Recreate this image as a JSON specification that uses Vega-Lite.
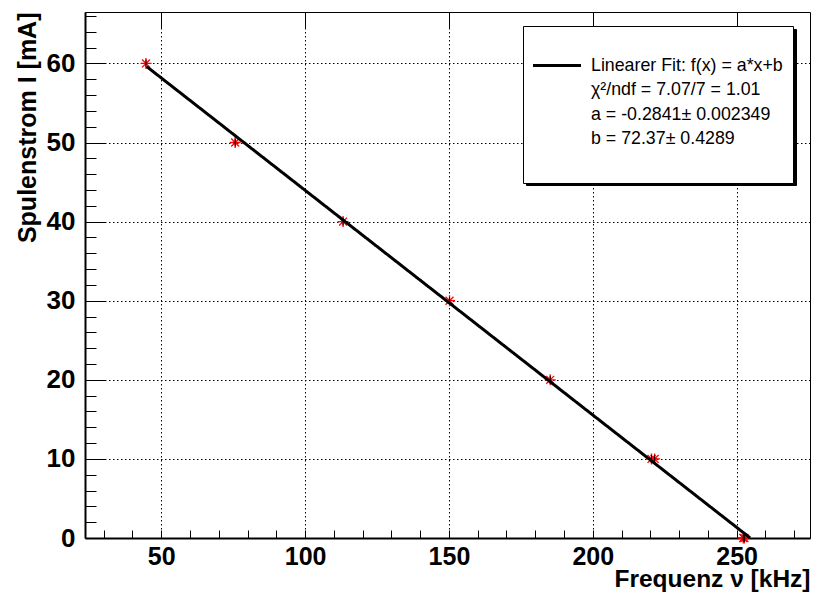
{
  "$schema": "https://vega.github.io/schema/vega-lite/v6.json",
  "width": 725,
  "height": 526,
  "autosize": {"type": "none"},
  "padding": {"left": 85, "top": 12, "right": 4, "bottom": 54},
  "background": "white",
  "config": {
    "font": "Liberation Sans",
    "view": {"stroke": "black", "strokeWidth": 1}
  },
  "datasets": {
    "messung": [
      {"f": 44.7, "I": 60, "dI": 0.5},
      {"f": 75.7, "I": 50, "dI": 0.5},
      {"f": 113.2, "I": 40, "dI": 0.5},
      {"f": 150.2, "I": 30, "dI": 0.5},
      {"f": 185.2, "I": 20, "dI": 0.5},
      {"f": 220.4, "I": 10, "dI": 0.5},
      {"f": 221.5, "I": 10, "dI": 0.5},
      {"f": 252.3, "I": 0, "dI": 0.5},
      {"f": 252.7, "I": 0, "dI": 0.5}
    ],
    "fit": [
      {"f": 45, "I": 59.5855, "label": "Linearer Fit: f(x) = a*x+b", "kurve": "Fit"},
      {"f": 254.7, "I": 0.0097, "label": "Linearer Fit: f(x) = a*x+b", "kurve": "Fit"}
    ]
  },
  "layer": [
    {
      "data": {"name": "messung"},
      "mark": {
        "type": "point",
        "shape": "M-1,0H1M0,-1V1M-0.72,-0.72L0.72,0.72M-0.72,0.72L0.72,-0.72",
        "filled": false,
        "stroke": "#ff0000",
        "strokeWidth": 1.3,
        "size": 121,
        "opacity": 1
      },
      "encoding": {
        "x": {
          "field": "f",
          "type": "quantitative",
          "title": "Frequenz ν [kHz]",
          "scale": {"domain": [23.5, 275.5], "nice": false, "zero": false},
          "axis": {
            "values": [30, 40, 50, 60, 70, 80, 90, 100, 110, 120, 130, 140, 150, 160, 170, 180, 190, 200, 210, 220, 230, 240, 250, 260, 270],
            "tickCount": 1000,
            "format": "d",
            "labelExpr": "datum.value % 50 === 0 ? datum.label : ''",
            "labelFont": "Liberation Sans",
            "labelFontSize": 25,
            "labelFontWeight": "bold",
            "labelColor": "black",
            "labelPadding": 14,
            "labelOverlap": false,
            "labelSeparation": -200,
            "labelFlush": false,
            "ticks": true,
            "tickColor": "black",
            "tickWidth": 1,
            "tickSize": -8,
            "grid": true,
            "gridColor": "black",
            "gridWidth": 1,
            "gridOpacity": {"condition": {"test": "datum.value % 50 === 0", "value": 1}, "value": 0},
            "gridDash": [17, 2.5, 1.5, 2.5, 1.5, 2.5, 1.5, 2.5, 1.5, 2.5, 1.5, 2.5, 1.5, 2.5, 1.5, 2.5, 1.5, 2.5, 1.5, 2.5, 1.5, 2.5, 1.5, 2.5, 1.5, 2.5, 1.5, 2.5, 1.5, 2.5, 1.5, 2.5, 1.5, 2.5, 1.5, 2.5, 1.5, 2.5, 1.5, 2.5, 1.5, 2.5, 1.5, 2.5, 1.5, 2.5, 1.5, 2.5, 1.5, 2.5, 1.5, 2.5, 1.5, 2.5, 1.5, 2.5, 1.5, 2.5, 1.5, 2.5, 1.5, 2.5, 1.5, 2.5, 1.5, 2.5, 1.5, 2.5, 1.5, 2.5, 1.5, 2.5, 1.5, 2.5, 1.5, 2.5, 1.5, 2.5, 1.5, 2.5, 1.5, 2.5, 1.5, 2.5, 1.5, 2.5, 1.5, 2.5, 1.5, 2.5, 1.5, 2.5, 1.5, 2.5, 1.5, 2.5, 1.5, 2.5, 1.5, 2.5, 1.5, 2.5, 1.5, 2.5, 1.5, 2.5, 1.5, 2.5, 1.5, 2.5, 1.5, 2.5, 1.5, 2.5, 1.5, 2.5, 1.5, 2.5, 1.5, 2.5, 1.5, 2.5, 1.5, 2.5, 1.5, 2.5, 1.5, 2.5, 1.5, 2.5, 1.5, 2.5, 1.5, 2.5, 1.5, 2.5, 1.5, 2.5, 1.5, 2.5, 1.5, 2.5, 1.5, 2.5, 1.5, 2.5, 1.5, 2.5, 1.5, 2.5, 1.5, 2.5, 1.5, 2.5, 1.5, 2.5, 1.5, 2.5, 1.5, 2.5, 1.5, 2.5, 1.5, 2.5, 1.5, 2.5, 1.5, 2.5, 1.5, 2.5, 1.5, 2.5, 1.5, 2.5, 1.5, 2.5, 1.5, 2.5, 1.5, 2.5, 1.5, 2.5, 1.5, 2.5, 1.5, 2.5, 1.5, 2.5, 1.5, 2.5, 1.5, 2.5, 1.5, 2.5, 1.5, 2.5, 1.5, 2.5, 1.5, 2.5, 1.5, 2.5, 1.5, 2.5, 1.5, 2.5, 1.5, 2.5, 1.5, 2.5, 1.5, 2.5, 1.5, 2.5, 1.5, 2.5, 1.5, 2.5, 1.5, 2.5, 1.5, 2.5, 1.5, 2.5, 1.5, 2.5, 1.5, 2.5, 1.5, 2.5, 1.5, 2.5, 1.5, 2.5, 1.5, 2.5, 1.5, 2.5, 1.5, 2.5, 1.5, 2.5, 1.5, 2.5, 1.5, 2.5, 1.5, 2.5, 1.5, 2.5, 1.5, 2.5, 1.5, 2.5, 1.5, 2.5, 1.5, 2.5, 1.5, 2.5, 1.5, 2.5, 1.5, 2.5],
            "domainColor": "black",
            "domainWidth": 2,
            "title": "Frequenz ν [kHz]",
            "titleFont": "Liberation Sans",
            "titleFontSize": 24.5,
            "titleFontWeight": "bold",
            "titleColor": "black",
            "titleAlign": "right",
            "titleBaseline": "alphabetic",
            "titleX": 725,
            "titleY": 48
          }
        },
        "y": {
          "field": "I",
          "type": "quantitative",
          "title": "Spulenstrom I [mA]",
          "scale": {"domain": [0, 66.5], "nice": false, "zero": false},
          "axis": {
            "values": [0, 2, 4, 6, 8, 10, 12, 14, 16, 18, 20, 22, 24, 26, 28, 30, 32, 34, 36, 38, 40, 42, 44, 46, 48, 50, 52, 54, 56, 58, 60, 62, 64, 66],
            "tickCount": 1000,
            "format": "d",
            "labelExpr": "datum.value % 10 === 0 ? datum.label : ''",
            "labelFont": "Liberation Sans",
            "labelFontSize": 26,
            "labelFontWeight": "bold",
            "labelColor": "black",
            "labelPadding": 21,
            "labelOverlap": false,
            "labelSeparation": -200,
            "labelFlush": false,
            "ticks": true,
            "tickColor": "black",
            "tickWidth": 1,
            "tickSize": -11,
            "grid": true,
            "gridColor": "black",
            "gridWidth": 1,
            "gridOpacity": {"condition": {"test": "datum.value % 10 === 0 && datum.value > 0", "value": 1}, "value": 0},
            "gridDash": [21, 2.5, 1.5, 2.5, 1.5, 2.5, 1.5, 2.5, 1.5, 2.5, 1.5, 2.5, 1.5, 2.5, 1.5, 2.5, 1.5, 2.5, 1.5, 2.5, 1.5, 2.5, 1.5, 2.5, 1.5, 2.5, 1.5, 2.5, 1.5, 2.5, 1.5, 2.5, 1.5, 2.5, 1.5, 2.5, 1.5, 2.5, 1.5, 2.5, 1.5, 2.5, 1.5, 2.5, 1.5, 2.5, 1.5, 2.5, 1.5, 2.5, 1.5, 2.5, 1.5, 2.5, 1.5, 2.5, 1.5, 2.5, 1.5, 2.5, 1.5, 2.5, 1.5, 2.5, 1.5, 2.5, 1.5, 2.5, 1.5, 2.5, 1.5, 2.5, 1.5, 2.5, 1.5, 2.5, 1.5, 2.5, 1.5, 2.5, 1.5, 2.5, 1.5, 2.5, 1.5, 2.5, 1.5, 2.5, 1.5, 2.5, 1.5, 2.5, 1.5, 2.5, 1.5, 2.5, 1.5, 2.5, 1.5, 2.5, 1.5, 2.5, 1.5, 2.5, 1.5, 2.5, 1.5, 2.5, 1.5, 2.5, 1.5, 2.5, 1.5, 2.5, 1.5, 2.5, 1.5, 2.5, 1.5, 2.5, 1.5, 2.5, 1.5, 2.5, 1.5, 2.5, 1.5, 2.5, 1.5, 2.5, 1.5, 2.5, 1.5, 2.5, 1.5, 2.5, 1.5, 2.5, 1.5, 2.5, 1.5, 2.5, 1.5, 2.5, 1.5, 2.5, 1.5, 2.5, 1.5, 2.5, 1.5, 2.5, 1.5, 2.5, 1.5, 2.5, 1.5, 2.5, 1.5, 2.5, 1.5, 2.5, 1.5, 2.5, 1.5, 2.5, 1.5, 2.5, 1.5, 2.5, 1.5, 2.5, 1.5, 2.5, 1.5, 2.5, 1.5, 2.5, 1.5, 2.5, 1.5, 2.5, 1.5, 2.5, 1.5, 2.5, 1.5, 2.5, 1.5, 2.5, 1.5, 2.5, 1.5, 2.5, 1.5, 2.5, 1.5, 2.5, 1.5, 2.5, 1.5, 2.5, 1.5, 2.5, 1.5, 2.5, 1.5, 2.5, 1.5, 2.5, 1.5, 2.5, 1.5, 2.5, 1.5, 2.5, 1.5, 2.5, 1.5, 2.5, 1.5, 2.5, 1.5, 2.5, 1.5, 2.5, 1.5, 2.5, 1.5, 2.5, 1.5, 2.5, 1.5, 2.5, 1.5, 2.5, 1.5, 2.5, 1.5, 2.5, 1.5, 2.5, 1.5, 2.5, 1.5, 2.5, 1.5, 2.5, 1.5, 2.5, 1.5, 2.5, 1.5, 2.5, 1.5, 2.5, 1.5, 2.5, 1.5, 2.5, 1.5, 2.5, 1.5, 2.5, 1.5, 2.5, 1.5, 2.5, 1.5, 2.5, 1.5, 2.5, 1.5, 2.5, 1.5, 2.5, 1.5, 2.5, 1.5, 2.5, 1.5, 2.5, 1.5, 2.5, 1.5, 2.5, 1.5, 2.5, 1.5, 2.5, 1.5, 2.5, 1.5, 2.5, 1.5, 2.5, 1.5, 2.5, 1.5, 2.5, 1.5, 2.5, 1.5, 2.5, 1.5, 2.5, 1.5, 2.5, 1.5, 2.5, 1.5, 2.5, 1.5, 2.5, 1.5, 2.5, 1.5, 2.5, 1.5, 2.5, 1.5, 2.5, 1.5, 2.5, 1.5, 2.5, 1.5, 2.5, 1.5, 2.5, 1.5, 2.5, 1.5, 2.5, 1.5, 2.5, 1.5, 2.5, 1.5, 2.5, 1.5, 2.5, 1.5, 2.5, 1.5, 2.5, 1.5, 2.5, 1.5, 2.5, 1.5, 2.5, 1.5, 2.5, 1.5, 2.5],
            "domainColor": "black",
            "domainWidth": 2,
            "title": "Spulenstrom I [mA]",
            "titleFont": "Liberation Sans",
            "titleFontSize": 25,
            "titleFontWeight": "bold",
            "titleColor": "black",
            "titleAngle": -90,
            "titleAlign": "right",
            "titleBaseline": "alphabetic",
            "titleX": -50,
            "titleY": 0
          }
        }
      }
    },
    {
      "data": {"name": "messung"},
      "mark": {"type": "errorbar", "color": "black", "thickness": 1},
      "encoding": {
        "x": {"field": "f", "type": "quantitative", "title": "Frequenz ν [kHz]"},
        "y": {"field": "I", "type": "quantitative", "title": "Spulenstrom I [mA]"},
        "yError": {"field": "dI"}
      }
    },
    {
      "data": {"name": "fit"},
      "mark": {"type": "line", "strokeWidth": 3, "strokeCap": "butt"},
      "encoding": {
        "x": {"field": "f", "type": "quantitative", "title": "Frequenz ν [kHz]"},
        "y": {"field": "I", "type": "quantitative", "title": "Spulenstrom I [mA]"},
        "color": {
          "field": "label",
          "type": "nominal",
          "scale": {
            "domain": ["Linearer Fit: f(x) = a*x+b", "χ²/ndf = 7.07/7 = 1.01", "a = -0.2841± 0.002349", "b = 72.37± 0.4289", " "],
            "range": ["black", "white", "white", "white", "white"]
          },
          "legend": {
            "orient": "none",
            "legendX": 438,
            "legendY": 14,
            "zindex": 2,
            "title": " ",
            "titleFontSize": 12,
            "titlePadding": 6,
            "fillColor": "white",
            "strokeColor": "black",
            "padding": 10,
            "symbolType": "M-2.4,0H2.4",
            "symbolSize": 400,
            "symbolStrokeWidth": 3,
            "symbolOffset": 12.5,
            "labelFont": "Liberation Sans",
            "labelFontSize": 17.8,
            "labelColor": "black",
            "labelLimit": 400,
            "labelOffset": 22.5,
            "rowPadding": 3.6
          }
        },
        "strokeDash": {
          "field": "kurve",
          "type": "nominal",
          "scale": {"domain": ["Fit"], "range": [[1, 0]]},
          "legend": {
            "orient": "none",
            "legendX": 441,
            "legendY": 17,
            "zindex": 1,
            "title": null,
            "padding": 0,
            "fillColor": "black",
            "strokeColor": "black",
            "symbolType": "square",
            "symbolSize": 24336,
            "symbolStrokeWidth": 0,
            "symbolOffset": 0,
            "labelExpr": "''",
            "labelFontSize": 1,
            "labelOffset": 114,
            "encode": {
              "symbols": {
                "update": {
                  "fill": {"value": "black"},
                  "stroke": {"value": "black"},
                  "opacity": {"value": 1}
                }
              }
            }
          }
        }
      }
    }
  ]
}
